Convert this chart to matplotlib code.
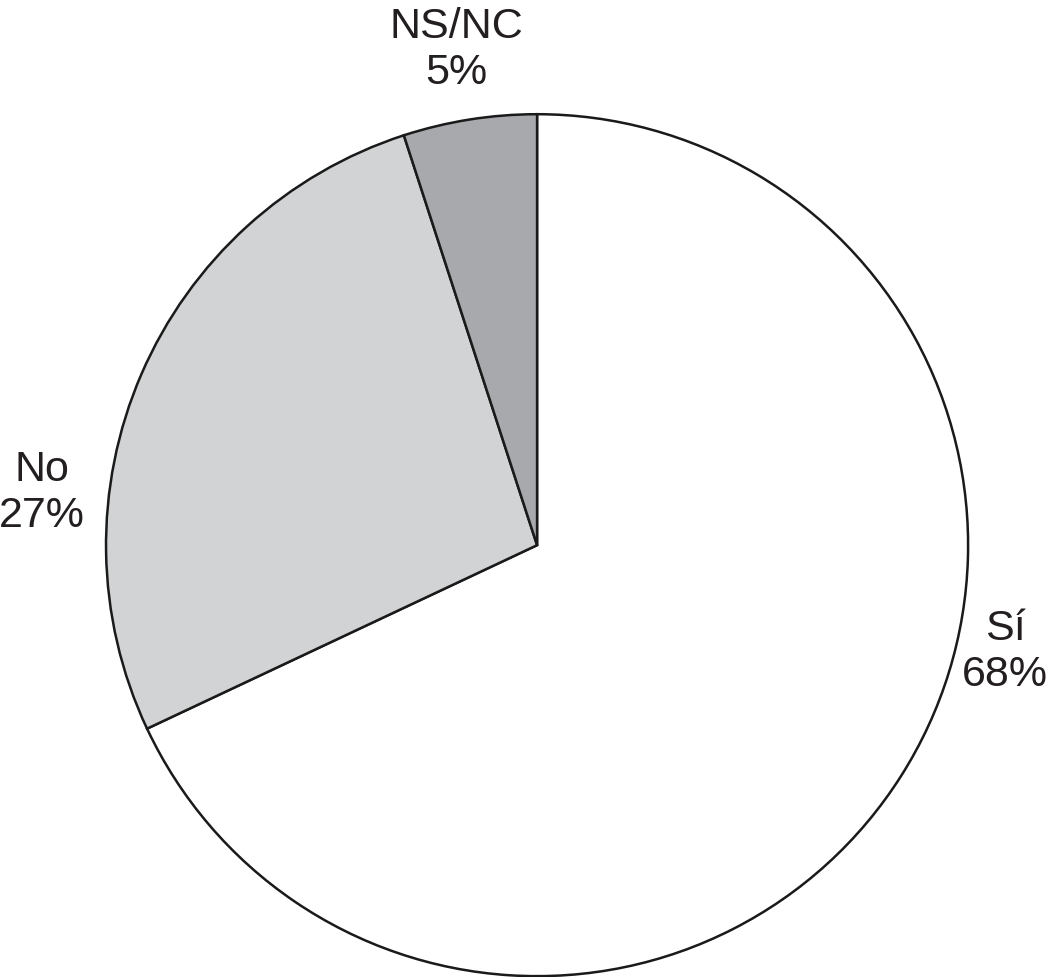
import matplotlib
matplotlib.use("Agg")
import matplotlib.pyplot as plt

labels = ["Sí", "No", "NS/NC"]
values = [68, 27, 5]
colors = ["#ffffff", "#d1d3d4", "#a7a9ac"]
label_pos = [(1.086, -0.248), (-1.148, 0.121), (-0.188, 1.149)]

plt.rcParams["font.family"] = ["Liberation Sans", "DejaVu Sans"]

fig = plt.figure(figsize=(10.5, 9.77), dpi=100)
ax = fig.add_axes([0, 0, 1, 1])
ax.pie(values, colors=colors, startangle=90, counterclock=False,
       radius=1.0, center=(0, 0),
       wedgeprops=dict(edgecolor="#1a1a1a", linewidth=1.8))
for lab, v, (x, y) in zip(labels, values, label_pos):
    ax.text(x, y, f"{lab}\n{v}%", ha="center", va="center",
            fontsize=31, color="#231f20", linespacing=1.22)
ax.set_xlim(-1.246, 1.190)
ax.set_ylim(-1.002, 1.265)
ax.set_aspect("auto")
ax.axis("off")
fig.savefig("out.png", dpi=100, facecolor="white")
